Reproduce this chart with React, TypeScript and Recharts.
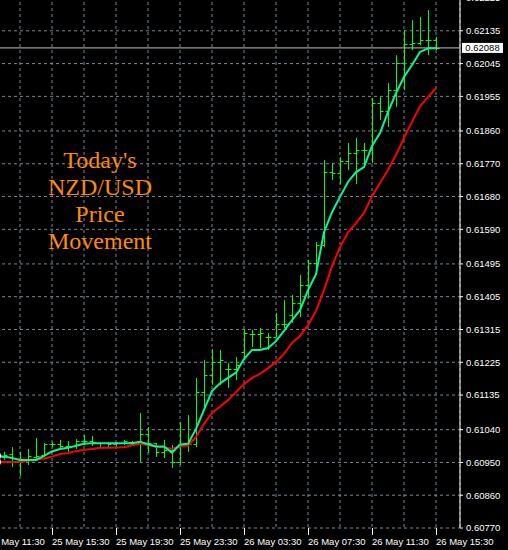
import { ComposedChart, Bar, Line, XAxis, YAxis, CartesianGrid, ReferenceLine } from "recharts"

// NZD/USD, 30-minute bars, 25 May 12:00 -> 26 May 15:30
const opens = [
  0.60962, 0.60965, 0.60973, 0.60959, 0.60957, 0.60965, 0.6097, 0.61001, 0.61001, 0.60995,
  0.60995, 0.61009, 0.61009, 0.61003, 0.61003, 0.61001, 0.61003, 0.61006, 0.61003, 0.61028,
  0.61003, 0.60979, 0.60984, 0.60951, 0.60998, 0.61001, 0.61143, 0.6119, 0.61226, 0.61206,
  0.61206, 0.61253, 0.61303, 0.61303, 0.61294, 0.61294, 0.6133, 0.61355, 0.61388, 0.61437,
  0.61497, 0.61547, 0.61747, 0.61744, 0.61777, 0.61799, 0.61808, 0.61808, 0.61937, 0.61915,
  0.61972, 0.62046, 0.62099, 0.62101, 0.6211, 0.6211,
]
const highs = [
  0.60979, 0.60979, 0.60992, 0.60979, 0.60987, 0.61017, 0.61003, 0.61006, 0.61012, 0.61009,
  0.61014, 0.61025, 0.61023, 0.61006, 0.61006, 0.61006, 0.61012, 0.61009, 0.61086, 0.61047,
  0.61003, 0.61012, 0.60998, 0.61061, 0.6108, 0.61182, 0.61231, 0.61261, 0.61259, 0.61223,
  0.61239, 0.61314, 0.61314, 0.61319, 0.61305, 0.6136, 0.61396, 0.6141, 0.61465, 0.61506,
  0.61555, 0.6178, 0.61772, 0.61788, 0.61827, 0.61841, 0.61827, 0.6195, 0.61953, 0.61992,
  0.62068, 0.62137, 0.62164, 0.62173, 0.62192, 0.62118,
]
const lows = [
  0.60951, 0.60957, 0.60937, 0.60913, 0.60943, 0.60957, 0.60965, 0.60992, 0.6099, 0.60979,
  0.60987, 0.60998, 0.60995, 0.60992, 0.60992, 0.60992, 0.60998, 0.60998, 0.60951, 0.60976,
  0.60965, 0.60962, 0.60935, 0.60943, 0.60979, 0.60992, 0.61094, 0.61163, 0.61163, 0.61154,
  0.61176, 0.61237, 0.61267, 0.61264, 0.61259, 0.61294, 0.61319, 0.61333, 0.61349, 0.61401,
  0.61473, 0.61541, 0.61725, 0.61714, 0.61753, 0.61714, 0.61766, 0.61772, 0.6189, 0.61871,
  0.61926, 0.61972, 0.62082, 0.62096, 0.62068, 0.62082,
]
const closes = [
  0.60968, 0.6097, 0.60962, 0.60957, 0.60968, 0.60968, 0.61001, 0.61001, 0.60995, 0.60995,
  0.61009, 0.61009, 0.61006, 0.61003, 0.61001, 0.61003, 0.61009, 0.61006, 0.61028, 0.61003,
  0.60979, 0.60984, 0.60951, 0.60998, 0.61001, 0.61143, 0.6119, 0.61226, 0.61231, 0.61206,
  0.61217, 0.61305, 0.61303, 0.61305, 0.61294, 0.6133, 0.6133, 0.61388, 0.61437, 0.61497,
  0.61547, 0.61747, 0.61744, 0.61777, 0.61799, 0.61808, 0.61808, 0.61937, 0.61915, 0.61972,
  0.62046, 0.62099, 0.62101, 0.6211, 0.6211, 0.62088,
]
// fast (aqua) and slow (red) moving averages
const fastMa = [
  0.60968, 0.60966, 0.60962, 0.60957, 0.60957, 0.60957, 0.60968, 0.6098, 0.60987, 0.6099,
  0.60996, 0.61001, 0.61003, 0.61003, 0.61003, 0.61003, 0.61003, 0.61003, 0.61007, 0.61,
  0.60994, 0.60994, 0.60977, 0.60999, 0.61001, 0.61042, 0.61094, 0.61146, 0.61167, 0.61182,
  0.61197, 0.61234, 0.61259, 0.61259, 0.61264, 0.61283, 0.61311, 0.61341, 0.61368, 0.61423,
  0.61467, 0.61582, 0.61637, 0.61679, 0.6172, 0.61747, 0.61761, 0.61819, 0.61854, 0.61912,
  0.61964, 0.62008, 0.62041, 0.62077, 0.62087, 0.62087,
]
const slowMa = [
  0.60951, 0.60951, 0.60951, 0.60951, 0.60954, 0.60957, 0.60961, 0.60966, 0.60973, 0.60976,
  0.60981, 0.60985, 0.60987, 0.6099, 0.6099, 0.60991, 0.60992, 0.60997, 0.61001, 0.60998,
  0.60993, 0.60992, 0.60987, 0.60995, 0.60996, 0.6102, 0.61056, 0.61086, 0.61103, 0.61121,
  0.61143, 0.61165, 0.61182, 0.61193, 0.61209, 0.61226, 0.61248, 0.61278, 0.61297, 0.61327,
  0.61366, 0.61423, 0.61489, 0.61541, 0.61582, 0.61607, 0.61635, 0.61681, 0.61717, 0.61753,
  0.61794, 0.61841, 0.61885, 0.61928, 0.61953, 0.61978,
]

const lastPrice = 0.62088
const priceTicks = [
  0.6077, 0.6086, 0.6095, 0.6104, 0.61135, 0.61225, 0.61315, 0.61405, 0.61495,
  0.6159, 0.6168, 0.6177, 0.6186, 0.61955, 0.62045, 0.62135, 0.62225,
]
// bar slots: 0 = 25 May 11:30, one slot per 30 minutes
const gridSlots = [0, 4, 8, 12, 16, 20, 24, 28, 32, 36, 40, 44, 48, 52, 56]
const labelSlots = [0, 8, 16, 24, 32, 40, 48, 56]
const timeLabels = [
  "25 May 11:30", "25 May 15:30", "25 May 19:30", "25 May 23:30",
  "26 May 03:30", "26 May 07:30", "26 May 11:30", "26 May 15:30",
]

const data = opens.map((o, k) => ({
  slot: k + 1,
  range: [lows[k], highs[k]],
  open: o,
  high: highs[k],
  low: lows[k],
  close: closes[k],
  fast: fastMa[k],
  slow: slowMa[k],
}))

const axisFont = "'Liberation Sans', Arial, sans-serif"

function OhlcBar(props: any) {
  const { x, y, width, height, payload } = props
  const top = Math.min(y, y + height)
  const bottom = Math.max(y, y + height)
  const cx = Math.round(x + width / 2) + 0.5
  const span = payload.high - payload.low
  const toY = (v: number) =>
    Math.round(span ? top + ((payload.high - v) / span) * (bottom - top) : top) + 0.5
  return (
    <g stroke="#00FF00" strokeWidth={1}>
      <line x1={cx} x2={cx} y1={top} y2={bottom} />
      <line x1={cx - 3} x2={cx} y1={toY(payload.open)} y2={toY(payload.open)} />
      <line x1={cx} x2={cx + 3} y1={toY(payload.close)} y2={toY(payload.close)} />
    </g>
  )
}

function TimeTick({ x, y, payload }: any) {
  const k = labelSlots.indexOf(payload.value)
  if (k < 0) return <g />
  return (
    <g>
      <line x1={x + 0.5} x2={x + 0.5} y1={y} y2={y + 7} stroke="#FFFFFF" />
      <text x={x} y={y + 17} fill="#FFFFFF" fontSize={9.5} fontFamily={axisFont} textAnchor="start">
        {timeLabels[k]}
      </text>
    </g>
  )
}

function PriceTag({ viewBox }: any) {
  if (!viewBox) return null
  const x = viewBox.x + viewBox.width + 2
  const y = viewBox.y
  return (
    <g>
      <rect x={x} y={y - 5} width={41} height={10} fill="#FFFFFF" />
      <text x={x + 20.5} y={y + 3.5} textAnchor="middle" fontSize={9.5} fontFamily={axisFont} fill="#000000">
        {lastPrice.toFixed(5)}
      </text>
    </g>
  )
}

export default function App() {
  return (
    <div style={{ position: "absolute", left: 0, top: 0, width: 508, height: 550, background: "#000", overflow: "hidden" }}>
      <div style={{ position: "absolute", left: -16, top: -10 }}>
        <ComposedChart width={524} height={560} data={data} margin={{ top: 0, right: 0, bottom: 0, left: 0 }}>
          <CartesianGrid stroke="#778899" strokeDasharray="3 3" />
          <XAxis
            dataKey="slot"
            type="number"
            domain={[-0.5, 59]}
            allowDataOverflow
            ticks={gridSlots}
            interval={0}
            height={22}
            axisLine={false}
            tickLine={false}
            tickSize={0}
            tickMargin={0}
            tick={<TimeTick />}
          />
          <YAxis
            type="number"
            orientation="right"
            domain={[0.6077, 0.62247]}
            allowDataOverflow
            ticks={priceTicks}
            interval={0}
            width={48}
            axisLine={{ stroke: "#FFFFFF" }}
            tickLine={{ stroke: "#FFFFFF" }}
            tickSize={3}
            tickMargin={3}
            tick={{ fill: "#FFFFFF", fontSize: 9.5, fontFamily: axisFont }}
            tickFormatter={(v: number) => v.toFixed(5)}
          />
          <ReferenceLine y={lastPrice} stroke="#C0C0C0" strokeWidth={1} label={<PriceTag />} />
          <Bar dataKey="range" barSize={6} shape={<OhlcBar />} isAnimationActive={false} />
          <Line type="linear" dataKey="slow" stroke="#FF0000" strokeWidth={2} dot={false} isAnimationActive={false} />
          <Line type="linear" dataKey="fast" stroke="#00FA9A" strokeWidth={2} dot={false} isAnimationActive={false} />
        </ComposedChart>
      </div>
      <div
        style={{
          position: "absolute",
          left: 0,
          top: 147,
          width: 200,
          textAlign: "center",
          color: "#FF8C00",
          fontFamily: "'Liberation Serif', 'Times New Roman', serif",
          fontSize: 24,
          lineHeight: "27px",
        }}
      >
        <div>Today's</div>
        <div>NZD/USD</div>
        <div>Price</div>
        <div>Movement</div>
      </div>
    </div>
  )
}
